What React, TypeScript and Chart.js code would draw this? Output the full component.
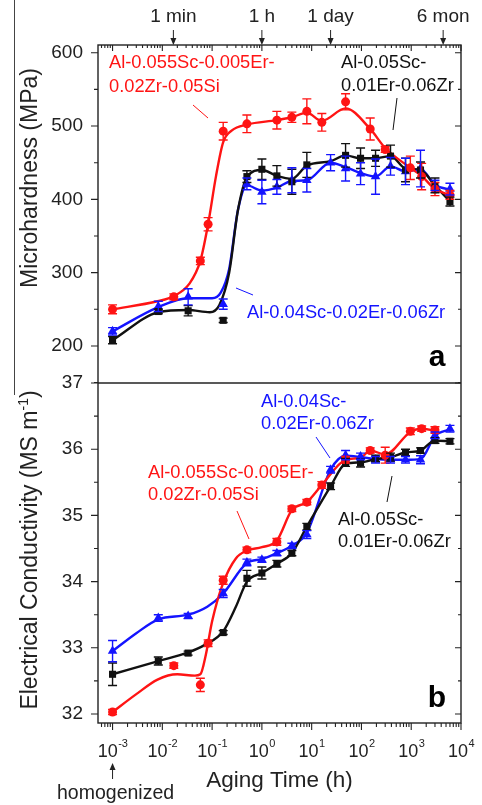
import { useEffect, useRef } from "react";
import { Chart, registerables } from "chart.js";

Chart.register(...registerables);

type Row = [number, number, number]; // [aging time (h), mean, error half-height]
type Knot = [number, number]; // [aging time (h), value on the smoothed trend]

const FONT = '"Liberation Sans", Arial, sans-serif';
const AXIS = "#222";
const RED = "#ff1414";
const BLUE = "#1414ff";
const BLACK = "#111";

// Alloy names as written on the plot
const ALLOY_SI = ["Al-0.055Sc-0.005Er-", "0.02Zr-0.05Si"];
const ALLOY_ER1 = ["Al-0.05Sc-", "0.01Er-0.06Zr"];
const ALLOY_ER2_ONE_LINE = "Al-0.04Sc-0.02Er-0.06Zr";
const ALLOY_ER2 = ["Al-0.04Sc-", "0.02Er-0.06Zr"];

// ---- Microhardness (MPa) ----
const hvSi: Row[] = [
  [0.001, 250, 6], [0.017, 267, 4], [0.058, 316, 5], [0.083, 366, 9],
  [0.167, 493, 12], [0.5, 503, 12], [2, 508, 12], [4, 512, 7],
  [8, 520, 17], [16, 505, 12], [48, 533, 11], [150, 496, 15],
  [300, 468, 4], [960, 443, 16], [1620, 431, 18], [3000, 414, 9],
  [6000, 406, 6],
];
const hvEr1: Row[] = [
  [0.001, 208, 5], [0.0083, 247, 3], [0.033, 248, 7], [0.167, 235, 3],
  [0.5, 431, 8], [1, 441, 14], [2, 432, 14], [4, 424, 17],
  [8, 447, 17], [48, 460, 16], [96, 456, 14], [192, 456, 11],
  [384, 459, 15], [768, 440, 16], [1536, 440, 11], [3000, 419, 10],
  [6000, 397, 6],
];
const hvEr2: Row[] = [
  [0.001, 220, 5], [0.0083, 254, 7], [0.033, 267, 11], [0.167, 257, 7],
  [0.5, 421, 8], [1, 410, 16], [2, 417, 10], [4, 426, 17],
  [8, 426, 16], [24, 450, 11], [48, 442, 17], [96, 435, 15],
  [192, 431, 24], [384, 445, 12], [768, 438, 18], [1536, 442, 25],
  [3000, 419, 7], [6000, 414, 8],
];

const hvSiTrend: Knot[] = [
  [0.001, 250], [0.008, 261], [0.017, 268], [0.035, 285], [0.058, 316],
  [0.083, 366], [0.12, 432], [0.167, 478], [0.25, 494], [0.5, 502],
  [2, 508], [4, 512], [8, 518], [16, 507], [48, 524], [150, 496],
  [300, 470], [960, 443], [1620, 432], [3000, 414], [6000, 406],
];
const hvEr1Trend: Knot[] = [
  [0.001, 208], [0.0083, 246], [0.033, 249], [0.09, 246], [0.14, 256],
  [0.22, 300], [0.33, 385], [0.5, 430], [1, 440], [2, 432], [4, 428],
  [8, 446], [24, 452], [48, 460], [96, 456], [192, 456], [384, 459],
  [768, 442], [1536, 440], [3000, 419], [6000, 397],
];
const hvEr2Trend: Knot[] = [
  [0.001, 220], [0.0083, 253], [0.033, 265], [0.1, 265], [0.15, 273],
  [0.22, 305], [0.33, 385], [0.5, 419], [1, 412], [2, 416], [4, 425],
  [8, 426], [24, 450], [48, 444], [96, 436], [192, 431], [384, 445],
  [768, 438], [1536, 441], [3000, 420], [6000, 413],
];

// ---- Electrical conductivity (MS/m) ----
const ecSi: Row[] = [
  [0.001, 32.03, 0.04], [0.017, 32.73, 0.04], [0.058, 32.44, 0.1],
  [0.083, 33.07, 0.05], [0.167, 34.02, 0.06], [0.5, 34.48, 0.04],
  [2, 34.6, 0.05], [4, 35.1, 0.04], [8, 35.2, 0.04], [16, 35.46, 0.05],
  [48, 35.84, 0.05], [150, 35.98, 0.04], [300, 35.91, 0.12],
  [960, 36.27, 0.05], [1620, 36.31, 0.04], [3000, 36.29, 0.05],
];
const ecEr1: Row[] = [
  [0.001, 32.6, 0.17], [0.0083, 32.8, 0.06], [0.033, 32.92, 0.03],
  [0.167, 33.23, 0.03], [0.5, 34.05, 0.12], [1, 34.13, 0.09],
  [2, 34.27, 0.05], [4, 34.43, 0.04], [8, 34.83, 0.05], [24, 35.44, 0.05],
  [48, 35.8, 0.06], [96, 35.79, 0.06], [192, 35.86, 0.05], [384, 35.88, 0.06],
  [768, 35.95, 0.05], [1536, 35.98, 0.04], [3000, 36.13, 0.04], [6000, 36.12, 0.04],
];
const ecEr2: Row[] = [
  [0.001, 32.95, 0.16], [0.0083, 33.45, 0.05], [0.033, 33.48, 0.04],
  [0.167, 33.82, 0.06], [0.5, 34.29, 0.05], [1, 34.33, 0.04],
  [2, 34.43, 0.04], [4, 34.54, 0.04], [8, 34.71, 0.06], [24, 35.69, 0.05],
  [48, 35.91, 0.07], [96, 35.89, 0.05], [192, 35.84, 0.05], [384, 35.84, 0.05],
  [768, 35.84, 0.05], [1536, 35.84, 0.06], [3000, 36.21, 0.05], [6000, 36.31, 0.05],
];

const ecSiTrend: Knot[] = [
  [0.001, 32.03], [0.003, 32.3], [0.008, 32.52], [0.02, 32.6], [0.045, 32.58],
  [0.058, 32.6], [0.075, 32.9], [0.1, 33.4], [0.167, 33.98], [0.3, 34.35],
  [0.5, 34.47], [1, 34.52], [2, 34.62], [4, 35.08], [8, 35.2], [16, 35.46],
  [48, 35.84], [96, 35.87], [150, 35.98], [300, 35.92], [960, 36.26],
  [1620, 36.31], [3000, 36.28],
];
const ecEr1Trend: Knot[] = [
  [0.001, 32.6], [0.0083, 32.8], [0.033, 32.93], [0.07, 33.04], [0.167, 33.25],
  [0.3, 33.62], [0.5, 34.0], [1, 34.13], [2, 34.27], [4, 34.43], [8, 34.83],
  [24, 35.44], [48, 35.78], [96, 35.8], [192, 35.85], [384, 35.88],
  [768, 35.95], [1536, 35.98], [3000, 36.13], [6000, 36.12],
];
const ecEr2Trend: Knot[] = [
  [0.001, 32.95], [0.003, 33.22], [0.0083, 33.43], [0.033, 33.5], [0.08, 33.62],
  [0.167, 33.82], [0.5, 34.28], [1, 34.34], [2, 34.43], [4, 34.54], [8, 34.74],
  [24, 35.69], [48, 35.9], [96, 35.88], [192, 35.85], [384, 35.84],
  [768, 35.84], [1536, 35.85], [3000, 36.2], [6000, 36.3],
];

// Axis text
const decadeExponents = ["-3", "-2", "-1", "0", "1", "2", "3", "4"];
const timeMarkLabels = ["1 min", "1 h", "1 day", "6 mon"];
const timeMarkHours = [1 / 60, 1, 24, 4380];

const toXY = (rows: (Row | Knot)[]) => rows.map((r) => ({ x: r[0], y: r[1] }));

function pointSet(rows: Row[], color: string, style: string, radius: number, axis: string) {
  return {
    type: "scatter",
    data: toXY(rows),
    errors: rows.map((r) => r[2]),
    yAxisID: axis,
    pointStyle: style,
    pointRadius: radius,
    backgroundColor: color,
    borderColor: color,
    borderWidth: 0,
    showLine: false,
    order: 0,
  };
}

function trendSet(knots: Knot[], color: string, axis: string) {
  return {
    type: "line",
    data: toXY(knots),
    yAxisID: axis,
    borderColor: color,
    borderWidth: 2.4,
    pointRadius: 0,
    fill: false,
    cubicInterpolationMode: "monotone",
    order: 1,
  };
}

function textLines(ctx: CanvasRenderingContext2D, lines: string[], x: number, y: number, gap: number, color: string, size: number) {
  ctx.fillStyle = color;
  ctx.font = `${size}px ${FONT}`;
  ctx.textAlign = "left";
  ctx.textBaseline = "middle";
  lines.forEach((t, i) => ctx.fillText(t, x, y + i * gap));
}

function segment(ctx: CanvasRenderingContext2D, x1: number, y1: number, x2: number, y2: number, color: string, w = 1) {
  ctx.strokeStyle = color;
  ctx.lineWidth = w;
  ctx.beginPath();
  ctx.moveTo(x1, y1);
  ctx.lineTo(x2, y2);
  ctx.stroke();
}

function arrow(ctx: CanvasRenderingContext2D, x: number, yFrom: number, yTip: number) {
  const dir = yTip > yFrom ? 1 : -1;
  segment(ctx, x, yFrom, x, yTip - dir * 4, AXIS, 1);
  ctx.fillStyle = AXIS;
  ctx.beginPath();
  ctx.moveTo(x, yTip);
  ctx.lineTo(x - 3, yTip - dir * 7);
  ctx.lineTo(x + 3, yTip - dir * 7);
  ctx.closePath();
  ctx.fill();
}

// Rotated axis title; parts flagged true are superscripts
function verticalTitle(ctx: CanvasRenderingContext2D, parts: [string, boolean][], cx: number, cy: number, size: number) {
  ctx.save();
  ctx.translate(cx, cy);
  ctx.rotate(-Math.PI / 2);
  const supSize = Math.round(size * 0.6);
  const widths = parts.map(([t, sup]) => {
    ctx.font = `${sup ? supSize : size}px ${FONT}`;
    return ctx.measureText(t).width;
  });
  let x = -widths.reduce((a, b) => a + b, 0) / 2;
  ctx.fillStyle = AXIS;
  ctx.textAlign = "left";
  ctx.textBaseline = "alphabetic";
  parts.forEach(([t, sup], i) => {
    ctx.font = `${sup ? supSize : size}px ${FONT}`;
    ctx.fillText(t, x, sup ? size * 0.36 - size * 0.42 : size * 0.36);
    x += widths[i];
  });
  ctx.restore();
}

const decorations = {
  id: "decorations",
  afterDatasetsDraw(chart: any) {
    const { ctx, chartArea: a, scales } = chart;
    const sx = scales.x;
    const yHV = scales.yHV;
    const yEC = scales.yEC;
    ctx.save();

    // error bars
    chart.data.datasets.forEach((ds: any, i: number) => {
      if (!ds.errors) return;
      const meta = chart.getDatasetMeta(i);
      const ys = scales[ds.yAxisID];
      ctx.strokeStyle = ds.borderColor;
      ctx.lineWidth = 1.4;
      ctx.beginPath();
      meta.data.forEach((pt: any, j: number) => {
        const v = ds.data[j].y;
        const e = ds.errors[j];
        const yt = ys.getPixelForValue(v + e);
        const yb = ys.getPixelForValue(v - e);
        ctx.moveTo(pt.x, yt);
        ctx.lineTo(pt.x, yb);
        ctx.moveTo(pt.x - 4.5, yt);
        ctx.lineTo(pt.x + 4.5, yt);
        ctx.moveTo(pt.x - 4.5, yb);
        ctx.lineTo(pt.x + 4.5, yb);
      });
      ctx.stroke();
    });

    // frame and panel divider
    ctx.strokeStyle = AXIS;
    ctx.lineWidth = 1.4;
    ctx.strokeRect(a.left, a.top, a.right - a.left, a.bottom - a.top);
    segment(ctx, a.left, yHV.bottom, a.right, yHV.bottom, AXIS, 1.4);

    // log ticks: outward at the bottom, inward on the top edge
    ctx.strokeStyle = AXIS;
    ctx.lineWidth = 1.1;
    ctx.beginPath();
    for (let e = -4; e <= 4; e++) {
      for (let m = 1; m <= 9; m++) {
        const v = m * Math.pow(10, e);
        if (v < sx.min * 0.999 || v > sx.max * 1.001) continue;
        const px = sx.getPixelForValue(v);
        const len = m === 1 ? 7 : 4;
        ctx.moveTo(px, a.bottom);
        ctx.lineTo(px, a.bottom + len);
        ctx.moveTo(px, a.top);
        ctx.lineTo(px, a.top + len - 1);
      }
    }
    // linear ticks: outward on the left, inward on the right
    const yTicks = (sc: any, step: number, majorEvery: number) => {
      const first = Math.ceil(sc.min / step - 1e-9) * step;
      for (let v = first; v <= sc.max + 1e-9; v += step) {
        const py = sc.getPixelForValue(v);
        const major = Math.abs(v / majorEvery - Math.round(v / majorEvery)) < 1e-6;
        const len = major ? 7 : 4;
        ctx.moveTo(a.left - len, py);
        ctx.lineTo(a.left, py);
        ctx.moveTo(a.right, py);
        ctx.lineTo(a.right - len + 1, py);
      }
    };
    yTicks(yHV, 50, 100);
    yTicks(yEC, 0.5, 1);
    ctx.stroke();

    // decade labels 10^n
    decadeExponents.forEach((ex) => {
      const px = sx.getPixelForValue(Math.pow(10, Number(ex)));
      ctx.font = `18px ${FONT}`;
      const wb = ctx.measureText("10").width;
      ctx.font = `11px ${FONT}`;
      const ws = ctx.measureText(ex).width;
      const x0 = px - (wb + ws) / 2;
      ctx.fillStyle = AXIS;
      ctx.textAlign = "left";
      ctx.textBaseline = "alphabetic";
      ctx.font = `18px ${FONT}`;
      ctx.fillText("10", x0, 757);
      ctx.font = `11px ${FONT}`;
      ctx.fillText(ex, x0 + wb + 0.5, 747);
    });

    // x title and the homogenized state marker
    ctx.fillStyle = AXIS;
    ctx.textAlign = "center";
    ctx.textBaseline = "alphabetic";
    ctx.font = `22.5px ${FONT}`;
    ctx.fillText("Aging Time (h)", (a.left + a.right) / 2, 787);
    const h0 = sx.getPixelForValue(0.001);
    arrow(ctx, h0, 779, 763);
    ctx.font = `19.5px ${FONT}`;
    ctx.fillText("homogenized", h0 + 3, 799);

    // time scale marks above the top panel
    timeMarkLabels.forEach((lab, i) => {
      const px = sx.getPixelForValue(timeMarkHours[i]);
      ctx.fillStyle = AXIS;
      ctx.textAlign = "center";
      ctx.textBaseline = "middle";
      ctx.font = `19px ${FONT}`;
      ctx.fillText(lab, px, 17);
      arrow(ctx, px, 30, a.top);
    });

    // axis titles
    verticalTitle(ctx, [["Microhardness (MPa)", false]], 29, 178, 23);
    verticalTitle(
      ctx,
      [["Electrical Conductivity (MS m", false], ["-1", true], [")", false]],
      29,
      550,
      23
    );

    // alloy labels with leader lines, panel a
    textLines(ctx, ALLOY_SI, 109, 63, 24, RED, 18.3);
    segment(ctx, 193, 105, 208, 118, RED);
    textLines(ctx, ALLOY_ER1, 341, 63, 23, BLACK, 18.3);
    segment(ctx, 397, 98, 393, 130, BLACK);
    textLines(ctx, [ALLOY_ER2_ONE_LINE], 247, 313, 0, BLUE, 18.3);
    segment(ctx, 236, 288, 253, 295, BLUE);

    // panel b
    textLines(ctx, ALLOY_ER2, 261, 402, 22, BLUE, 18.3);
    segment(ctx, 316, 437, 330, 458, BLUE);
    textLines(ctx, ALLOY_SI, 148, 473, 22, RED, 18.3);
    segment(ctx, 237, 511, 249, 539, RED);
    textLines(ctx, ALLOY_ER1, 338, 520, 22, BLACK, 18.3);
    segment(ctx, 392, 476, 387, 502, BLACK);

    // panel letters
    ctx.fillStyle = "#000";
    ctx.textAlign = "center";
    ctx.textBaseline = "alphabetic";
    ctx.font = `bold 30px ${FONT}`;
    ctx.fillText("a", 437, 366);
    ctx.fillText("b", 437, 707);

    // thin rule at the left edge
    segment(ctx, 14.5, 0, 14.5, 395, "#444", 1);

    ctx.restore();
  },
};

export default function App() {
  const canvasRef = useRef<HTMLCanvasElement>(null);

  useEffect(() => {
    const canvas = canvasRef.current;
    if (!canvas) return;
    const isWhole = (v: number) => Math.abs(v - Math.round(v)) < 1e-6;
    const chart = new Chart(canvas, {
      type: "scatter",
      data: {
        datasets: [
          pointSet(hvSi, RED, "circle", 4.5, "yHV"),
          pointSet(hvEr1, BLACK, "rect", 5, "yHV"),
          pointSet(hvEr2, BLUE, "triangle", 5.5, "yHV"),
          pointSet(ecSi, RED, "circle", 4.5, "yEC"),
          pointSet(ecEr1, BLACK, "rect", 5, "yEC"),
          pointSet(ecEr2, BLUE, "triangle", 5.5, "yEC"),
          trendSet(hvSiTrend, RED, "yHV"),
          trendSet(hvEr1Trend, BLACK, "yHV"),
          trendSet(hvEr2Trend, BLUE, "yHV"),
          trendSet(ecSiTrend, RED, "yEC"),
          trendSet(ecEr1Trend, BLACK, "yEC"),
          trendSet(ecEr2Trend, BLUE, "yEC"),
        ] as any,
      },
      options: {
        responsive: false,
        animation: false,
        devicePixelRatio: 1,
        events: [],
        layout: { padding: { left: 0, right: 21, top: 45, bottom: 0 } },
        plugins: { legend: { display: false }, tooltip: { enabled: false } },
        scales: {
          x: {
            type: "logarithmic",
            position: "bottom",
            min: 5.1e-4,
            max: 1e4,
            grid: { display: false, drawTicks: false },
            border: { display: false },
            ticks: { display: false },
            afterFit: (s: any) => {
              s.height = 82;
            },
          },
          yEC: {
            type: "linear",
            position: "left",
            stack: "panels",
            stackWeight: 340,
            min: 31.864,
            max: 37,
            grid: { display: false, drawTicks: false },
            border: { display: false },
            ticks: {
              stepSize: 0.5,
              includeBounds: false,
              autoSkip: false,
              padding: 15,
              color: AXIS,
              font: { family: FONT, size: 19 },
              callback: (v: any) => (isWhole(v) ? String(Math.round(v)) : ""),
            },
            afterFit: (s: any) => {
              s.width = 98;
            },
          },
          yHV: {
            type: "linear",
            position: "left",
            stack: "panels",
            stackWeight: 338,
            min: 149.5,
            max: 610.5,
            grid: { display: false, drawTicks: false },
            border: { display: false },
            ticks: {
              stepSize: 50,
              includeBounds: false,
              autoSkip: false,
              padding: 15,
              color: AXIS,
              font: { family: FONT, size: 19 },
              callback: (v: any) => (isWhole(v / 100) ? String(Math.round(v)) : ""),
            },
            afterFit: (s: any) => {
              s.width = 98;
            },
          },
        },
      } as any,
      plugins: [decorations],
    });
    return () => chart.destroy();
  }, []);

  return (
    <div style={{ position: "absolute", left: 0, top: 0, width: 482, height: 805, background: "#fff" }}>
      <canvas ref={canvasRef} width={482} height={805} style={{ display: "block", width: 482, height: 805 }} />
    </div>
  );
}
